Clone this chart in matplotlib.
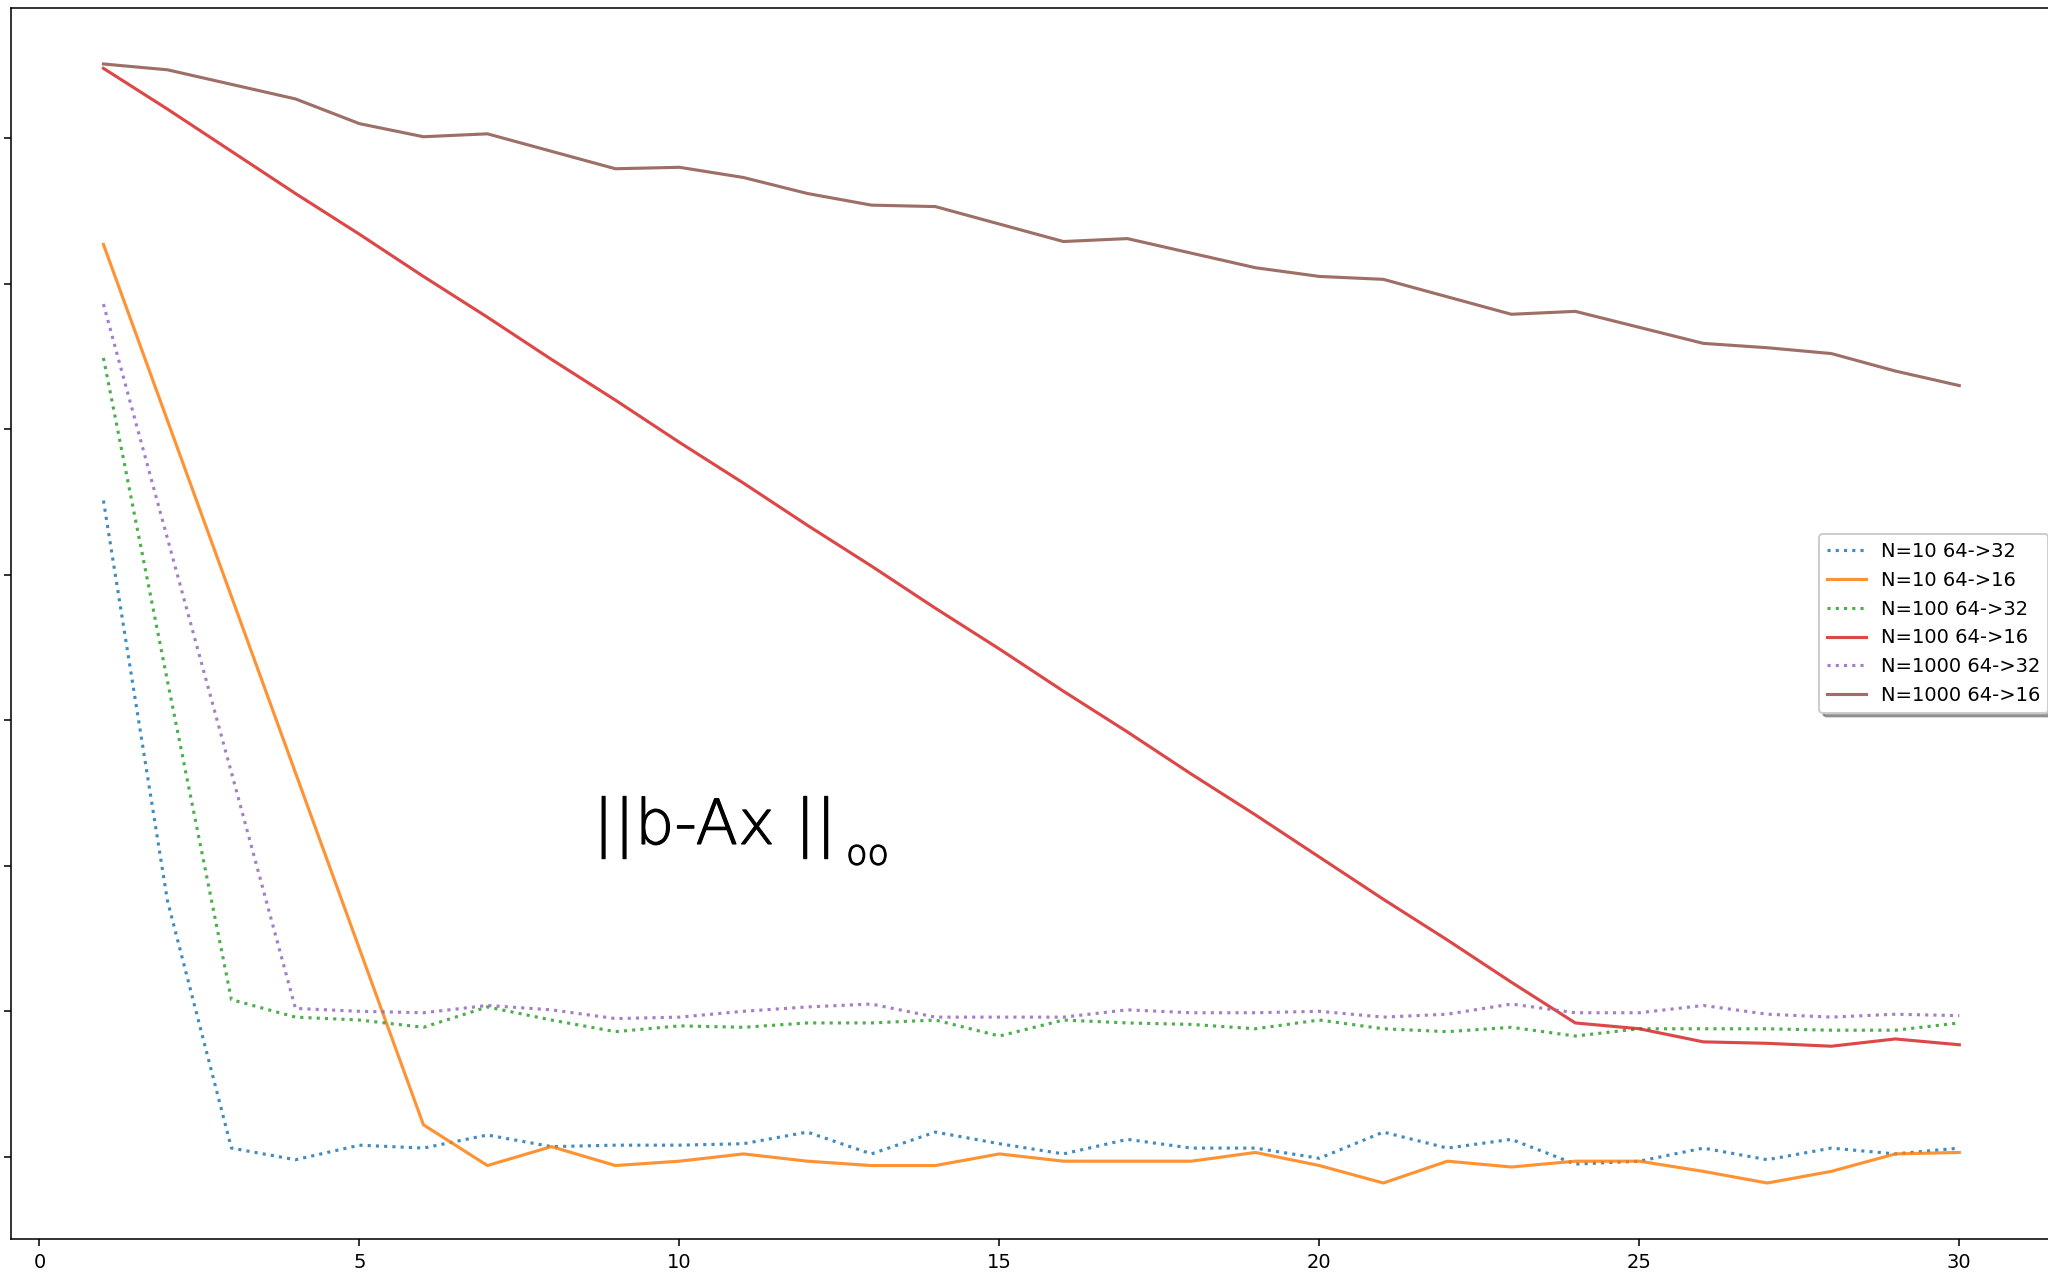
import numpy as np
import matplotlib
matplotlib.use("Agg")
import matplotlib.pyplot as plt
import matplotlib.patheffects as pe

# iteration index and residual (arbitrary log-like units, y tick labels are cropped off)
iters = list(range(1, 31))

n10_32 = [4.51, 1.76, 0.06, -0.02, 0.08, 0.06, 0.15, 0.07, 0.08, 0.08,
          0.09, 0.17, 0.02, 0.17, 0.09, 0.02, 0.12, 0.06, 0.06, -0.01,
          0.17, 0.06, 0.12, -0.05, -0.03, 0.06, -0.02, 0.06, 0.02, 0.06]
n10_16 = [6.27, 5.06, 3.85, 2.64, 1.43, 0.22, -0.06, 0.07, -0.06, -0.03,
          0.02, -0.03, -0.06, -0.06, 0.02, -0.03, -0.03, -0.03, 0.03, -0.06,
          -0.18, -0.03, -0.07, -0.03, -0.03, -0.10, -0.18, -0.10, 0.02, 0.03]
n100_32 = [5.49, 3.27, 1.08, 0.96, 0.94, 0.89, 1.03, 0.94, 0.86, 0.90,
           0.89, 0.92, 0.92, 0.94, 0.83, 0.94, 0.92, 0.91, 0.88, 0.94,
           0.88, 0.86, 0.89, 0.83, 0.88, 0.88, 0.88, 0.87, 0.87, 0.92]
n100_16 = [7.48, 7.20, 6.91, 6.62, 6.34, 6.05, 5.77, 5.48, 5.20, 4.91,
           4.63, 4.34, 4.06, 3.77, 3.49, 3.20, 2.92, 2.63, 2.35, 2.06,
           1.77, 1.49, 1.20, 0.92, 0.88, 0.79, 0.78, 0.76, 0.81, 0.77]
n1000_32 = [5.86, 4.25, 2.64, 1.02, 1.00, 0.99, 1.04, 1.01, 0.95, 0.96,
            1.00, 1.03, 1.05, 0.96, 0.96, 0.96, 1.01, 0.99, 0.99, 1.00,
            0.96, 0.98, 1.05, 0.99, 0.99, 1.04, 0.98, 0.96, 0.98, 0.97]
n1000_16 = [7.51, 7.47, 7.37, 7.27, 7.10, 7.01, 7.03, 6.91, 6.79, 6.80,
            6.73, 6.62, 6.54, 6.53, 6.41, 6.29, 6.31, 6.21, 6.11, 6.05,
            6.03, 5.91, 5.79, 5.81, 5.70, 5.59, 5.56, 5.52, 5.40, 5.30]

series = [
    ("N=10 64->32", n10_32, ":"),
    ("N=10 64->16", n10_16, "-"),
    ("N=100 64->32", n100_32, ":"),
    ("N=100 64->16", n100_16, "-"),
    ("N=1000 64->32", n1000_32, ":"),
    ("N=1000 64->16", n1000_16, "-"),
]
yticks = list(range(8))


def main():
    fig = plt.figure(figsize=(2048 / 140, 1274 / 140), dpi=140)
    # the original view is cropped: y labels and right spine fall outside
    ax = fig.add_axes([0.0052, 0.0275, 0.9968, 0.9662])
    for i, (lbl, vals, ls) in enumerate(series):
        ax.plot(iters, vals, ls=ls, color=f"C{i}", lw=1.6, alpha=0.85, label=lbl)
    ax.set_yticks(yticks)
    ax.set_yticklabels([])
    ax.legend(loc="center right", bbox_to_anchor=(1.003, 0.5), shadow=True)

    # norm label; ExtraLight DejaVu thickened a little with a stroke
    thick = [pe.withStroke(linewidth=0.6, foreground="black")]
    t1 = ax.text(8.65, 2.15, "||b-Ax ||", fontsize=32, family="DejaVu Sans",
                 fontweight="light", ha="left", va="baseline", path_effects=thick)
    ax.annotate("oo", xy=(1, 0), xycoords=t1, xytext=(5, -2.6), textcoords="offset points",
                fontsize=18, family="DejaVu Sans", fontweight="light",
                ha="left", va="baseline", path_effects=thick)

    fig.savefig("out.png", dpi=140)


if __name__ == "__main__":
    main()
